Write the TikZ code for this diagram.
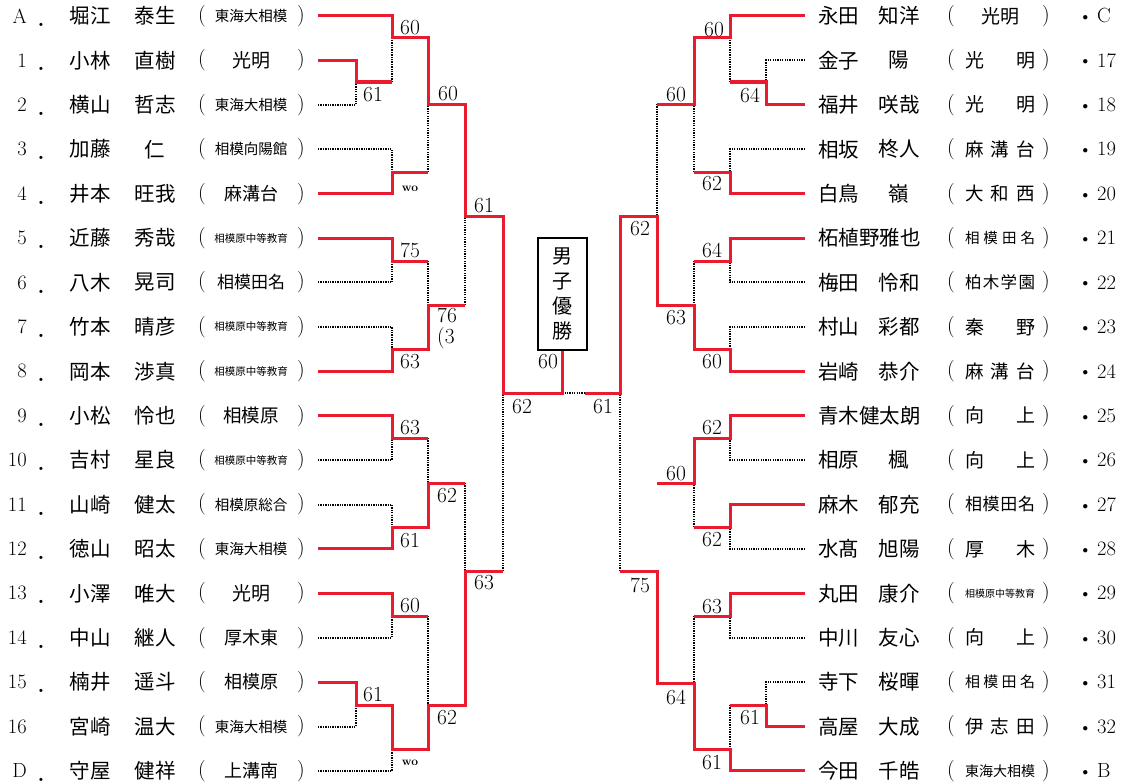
\documentclass[tikz,border=0pt]{standalone}
\usepackage{fontspec}
\usepackage{xcolor}
\usepackage{tikz}
\newfontfamily\cjk{Noto Sans CJK JP}
\definecolor{winred}{RGB}{232,28,46}

\begin{document}
\begin{tikzpicture}[
        x = 1pt, y = -1pt, % pixel grid, y runs downwards
        won/.style = {draw=winred, line width=3pt, line join=miter}, % winner's line
        lost/.style = {draw=black, line width=2pt, dash pattern=on 1.3pt off 1.1pt}, % loser's line
        player/.style = {font=\cjk\fontsize{20.5}{20.5}\selectfont, inner sep=0pt},
        score/.style = {font=\fontsize{21.5}{21.5}\selectfont, inner sep=0pt},
        label/.style = {font=\fontsize{20.5}{20.5}\selectfont, inner sep=0pt},
        wo/.style = {font=\bfseries\fontsize{12}{12}\selectfont, inner sep=0pt},
    ]
        \useasboundingbox (0,0) rectangle (1127,784);

        % Entry points
        \foreach \n [count=\i from 0] in {A,1,2,3,4,5,6,7,8,9,10,11,12,13,14,15,16,D}
            \coordinate (L\n) at (318, 16+44.41*\i);
        \foreach \n [count=\i from 0] in {C,17,18,19,20,21,22,23,24,25,26,27,28,29,30,31,32,B}
            \coordinate (R\n) at (805, 16+44.41*\i);

        % Left players
        \foreach \n/\dt/\sur/\giv/\fs/\sch [count=\i from 0] in {
            A/./堀江/泰生/14.5/東海大相模,
            1/./小林/直樹/19/光明,
            2/./横山/哲志/14.5/東海大相模,
            3/./加藤/仁/14.5/相模向陽館,
            4/./井本/旺我/18/麻溝台,
            5/./近藤/秀哉/10.5/相模原中等教育,
            6/./八木/晃司/17/相模田名,
            7/./竹本/晴彦/10.5/相模原中等教育,
            8/./岡本/渉真/10.5/相模原中等教育,
            9/./小松/怜也/18.5/相模原,
            10/./吉村/星良/10.5/相模原中等教育,
            11/./山崎/健太/14.5/相模原総合,
            12/./徳山/昭太/14.5/東海大相模,
            13/./小澤/唯大/19/光明,
            14/./中山/継人/18/厚木東,
            15/./楠井/遥斗/18/相模原,
            16//宮崎/温大/14.5/東海大相模,
            D/./守屋/健祥/18/上溝南} {
            \pgfmathsetmacro\yy{16+44.41*\i}
            \node[label, anchor=east] (lno\i) at (27,\yy) {\n};
            \node[label, font=\bfseries\fontsize{22}{22}\selectfont] (ldt\i) at (41,\yy+9) {\dt};
            \node[player] (lsur\i) at (90,\yy) {\sur};
            \node[player] (lgiv\i) at (155,\yy) {\giv};
            \node[score] (lop\i) at (202,\yy) {(};
            \node[player, font=\cjk\fontsize{\fs}{\fs}\selectfont] (lsch\i) at (251,\yy) {\sch};
            \node[score] (lcp\i) at (301,\yy) {)};
        }

        % Right players
        \foreach \n/\sur/\giv/\fs/\sch [count=\i from 0] in {
            C/永田/知洋/19/\hfil 光明\hfil,
            17/金子/陽/19/光\hfil 明,
            18/福井/咲哉/19/光\hfil 明,
            19/相坂/柊人/18.5/麻\hfil 溝\hfil 台,
            20/白鳥/嶺/18.5/大\hfil 和\hfil 西,
            21/柘植野雅也//14.5/相\hfil 模\hfil 田\hfil 名,
            22/梅田/怜和/16.5/柏\hfil 木\hfil 学\hfil 園,
            23/村山/彩都/19/秦\hfil 野,
            24/岩崎/恭介/18.5/麻\hfil 溝\hfil 台,
            25/青木健太朗//19/向\hfil 上,
            26/相原/楓/19/向\hfil 上,
            27/麻木/郁充/17/相\hfil 模\hfil 田\hfil 名,
            28/水髙/旭陽/19/厚\hfil 木,
            29/丸田/康介/10/相模原中等教育,
            30/中川/友心/19/向\hfil 上,
            31/寺下/桜暉/15/相\hfil 模\hfil 田\hfil 名,
            32/高屋/大成/18.5/伊\hfil 志\hfil 田,
            B/今田/千皓/14/東\hfil 海\hfil 大\hfil 相\hfil 模} {
            \pgfmathsetmacro\yy{16+44.41*\i}
            \node[player, anchor=west] (rsur\i) at (818,\yy) {\sur};
            \node[player] (rgiv\i) at (899,\yy) {\giv};
            \node[score] (rop\i) at (951,\yy) {(};
            \node[player, font=\cjk\fontsize{\fs}{\fs}\selectfont] (rsch\i) at (1000,\yy) {\makebox[70pt][s]{\sch}};
            \node[score] (rcp\i) at (1046,\yy) {)};
            \node[player, anchor=base] (rdt\i) at (1086,\yy+9.5) {・};
            \node[label, anchor=west] (rno\i) at (1097,\yy) {\n};
        }

        % Match points
        \foreach \x/\y/\j in {
            356/82/lab, 392/38/lAa, 392/172/l34, 428/104/lq1,
            392/261/l56, 392/349/l78, 428/305/lq2, 465/216/ls1,
            392/438/l910, 392/527/l1112, 428/483/lq3,
            392/616/l1314, 356/705/l1516, 392/749/l16D, 428/705/lq4,
            465/571/ls2, 503/393/lsemi,
            766/82/r1718, 730/38/rCa, 730/172/r1920, 694/104/rq1,
            730/261/r2122, 730/349/r2324, 694/305/rq2, 657/216/rs1,
            730/438/r2526, 730/527/r2728, 694/483/rq3,
            730/616/r2930, 766/705/r3132, 730/749/r32B, 694/683/rq4,
            657/571/rs2, 620/393/rsemi,
            562.5/393/fin, 585/393/fgap} {
            \coordinate (\j) at (\x,\y);
        }

        % Title box
        \node[draw, line width=1.2pt, minimum width=49pt, minimum height=112pt, inner sep=0pt,
            align=center, font=\cjk\fontsize{20}{25}\selectfont] (champ) at (562.5,294) {男\\子\\優\\勝};

        % Losers
        \foreach \a/\b in {L2/lab, L3/l34, L6/l56, L7/l78, L10/l910, L11/l1112,
            L14/l1314, L16/l1516, LD/l16D, R17/r1718, R19/r1920, R22/r2122,
            R23/r2324, R26/r2526, R28/r2728, R30/r2930, R31/r3132} {
            \draw[lost] (\a) -| (\b);
        }
        \foreach \a/\b in {lab/lAa, l34/lq1, l56/lq2, lq2/ls1, l910/lq3, lq3/ls2,
            l1314/lq4, ls2/lsemi, r1718/rCa, r1920/rq1, r2122/rq2, rq1/rs1,
            r2728/rq3, r2930/rq4, r3132/r32B, rs2/rsemi} {
            \draw[lost] (\a -| \b) -- (\b);
        }
        \draw[lost] (fgap) -- (fin);

        % Winners
        \draw[won] (LA) -| (lAa) -| (lq1) -| (ls1) -| (lsemi) -- (fin) -- (champ.south);
        \draw[won] (L1) -| (lab) -- (lab -| lAa);
        \draw[won] (L4) -| (l34) -- (l34 -| lq1);
        \draw[won] (L5) -| (l56) -- (l56 -| lq2);
        \draw[won] (L8) -| (l78) -| (lq2) -- (lq2 -| ls1);
        \draw[won] (L9) -| (l910) -- (l910 -| lq3);
        \draw[won] (L12) -| (l1112) -| (lq3) -- (lq3 -| ls2);
        \draw[won] (L13) -| (l1314) -- (l1314 -| lq4);
        \draw[won] (L15) -| (l1516) -| (l16D) -| (lq4) -| (ls2) -- (ls2 -| lsemi);
        \draw[won] (RC) -| (rCa) -| (rq1) -- (rq1 -| rs1);
        \draw[won] (R18) -| (r1718) -- (r1718 -| rCa);
        \draw[won] (R20) -| (r1920) -- (r1920 -| rq1);
        \draw[won] (R21) -| (r2122) -- (r2122 -| rq2);
        \draw[won] (R24) -| (r2324) -| (rq2) -| (rs1) -| (rsemi) -- (fgap);
        \draw[won] (R25) -| (r2526) -| (rq3) -- (rq3 -| rs2);
        \draw[won] (R27) -| (r2728) -- (r2728 -| rq3);
        \draw[won] (R29) -| (r2930) -- (r2930 -| rq4);
        \draw[won] (R32) -| (r3132) -- (r3132 -| r32B);
        \draw[won] (RB) -| (r32B) -| (rq4) -| (rs2) -- (rs2 -| rsemi);

        % Scores
        \foreach \x/\y/\s [count=\k] in {
            410/28/60, 373/95/61, 448/94/60, 484/206/61,
            410/250/75, 410/362/63, 410/428/63, 410/541/61,
            447/496/62, 484/583/63, 410/606/60, 373/695/61,
            447/718/62, 522/407/62, 548/362/60,
            714/30/60, 750/95/64, 676/95/60, 712/184/62,
            640/229/62, 712/250/64, 676/318/63, 712/362/60,
            603/407/61, 712/428/62, 676/474/60, 712/540/62,
            640/585/75, 712/607/63, 676/697/64, 750/718/61,
            712/763/61} {
            \node[score] (sc\k) at (\x,\y) {\s};
        }
        \node[score, align=left, anchor=north west, font=\fontsize{21.5}{21}\selectfont] (sc76) at (437,308) {76\\(3};
        \node[wo] (wo1) at (410,189) {wo};
        \node[wo] (wo2) at (410,763) {wo};
    \end{tikzpicture}
\end{document}
